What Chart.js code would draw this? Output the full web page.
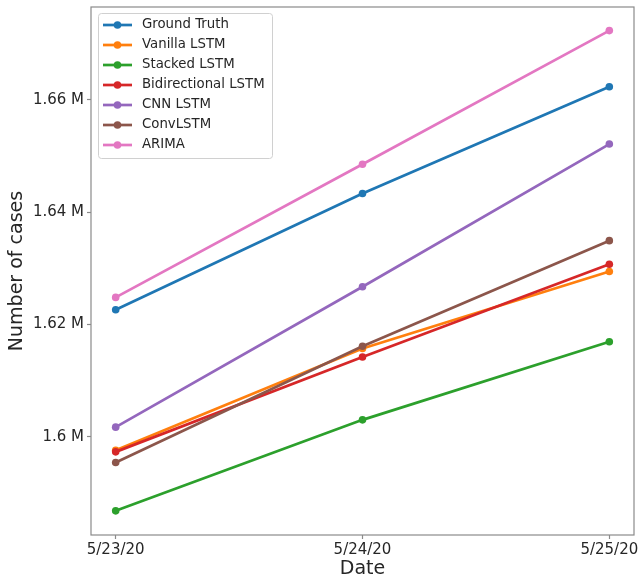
<!DOCTYPE html>
<html lang="en">
<head>
  <meta charset="UTF-8" />
  <title>Number of cases</title>
  <script src="https://cdn.jsdelivr.net/npm/chart.js"></script>
  <style>
    body { margin: 0; background: #fff; }
    canvas { display: block; }
  </style>
</head>
<body>
  <canvas id="casesChart" width="642" height="582"></canvas>
  <script>
    // Dados
    const dates = ['5/23/20', '5/24/20', '5/25/20'];
    const yTicks = [1600000, 1620000, 1640000, 1660000];

    const groundTruth   = [1622600, 1643300, 1662300];
    const vanillaLstm   = [1597600, 1615700, 1629400];
    const stackedLstm   = [1586800, 1603000, 1616900];
    const bidirLstm     = [1597300, 1614200, 1630700];
    const cnnLstm       = [1601700, 1626700, 1652100];
    const convLstm      = [1595400, 1616100, 1634900];
    const arima         = [1624800, 1648500, 1672300];

    const seriesNames  = ['Ground Truth', 'Vanilla LSTM', 'Stacked LSTM', 'Bidirectional LSTM', 'CNN LSTM', 'ConvLSTM', 'ARIMA'];
    const seriesValues = [groundTruth, vanillaLstm, stackedLstm, bidirLstm, cnnLstm, convLstm, arima];
    const colors = ['#1f77b4', '#ff7f0e', '#2ca02c', '#d62728', '#9467bd', '#8c564b', '#e377c2'];

    const font = 'DejaVu Sans';

    const datasets = seriesNames.map((name, i) => ({
      label: name,
      data: seriesValues[i].map((v, j) => ({ x: j, y: v })),
      borderColor: colors[i],
      backgroundColor: colors[i],
      borderWidth: 2.7,
      pointRadius: 3.8,
      pointBorderWidth: 0,
      order: seriesNames.length - i
    }));

    // Moldura do gráfico + legenda dentro da área
    const framePlugin = {
      id: 'frame',
      afterDraw(chart) {
        const { ctx, chartArea: a } = chart;
        ctx.save();
        ctx.strokeStyle = '#8a8a8a';
        ctx.lineWidth = 1.2;
        ctx.strokeRect(a.left, a.top, a.right - a.left, a.bottom - a.top);

        // legenda
        const bx = 98, by = 13, bw = 174, bh = 145;
        ctx.fillStyle = 'rgba(255,255,255,0.85)';
        ctx.strokeStyle = '#d0d0d0';
        ctx.lineWidth = 1;
        ctx.beginPath();
        ctx.roundRect(bx + 0.5, by + 0.5, bw, bh, 3);
        ctx.fill();
        ctx.stroke();
        ctx.font = '13.3px "' + font + '"';
        ctx.textBaseline = 'middle';
        seriesNames.forEach((name, i) => {
          const y = 25 + i * 20;
          ctx.strokeStyle = colors[i];
          ctx.lineWidth = 2.7;
          ctx.beginPath();
          ctx.moveTo(103, y);
          ctx.lineTo(132, y);
          ctx.stroke();
          ctx.fillStyle = colors[i];
          ctx.beginPath();
          ctx.arc(117.5, y, 3.8, 0, Math.PI * 2);
          ctx.fill();
          ctx.fillStyle = '#262626';
          ctx.fillText(name, 142, y);
        });
        ctx.restore();
      }
    };

    new Chart(document.getElementById('casesChart').getContext('2d'), {
      type: 'line',
      data: { datasets: datasets },
      plugins: [framePlugin],
      options: {
        responsive: false,
        animation: false,
        layout: { padding: { top: 7, right: 8, left: 0, bottom: 0 } },
        plugins: { legend: { display: false }, tooltip: { enabled: false } },
        scales: {
          x: {
            type: 'linear',
            min: -0.1,
            max: 2.1,
            afterBuildTicks: s => { s.ticks = dates.map((d, i) => ({ value: i })); },
            afterFit: s => { s.height = 47; s.paddingLeft = 0; s.paddingRight = 0; },
            grid: { display: true, drawOnChartArea: false, tickLength: 4, color: '#8a8a8a', tickWidth: 1.2 },
            border: { display: false },
            ticks: {
              color: '#262626',
              font: { family: font, size: 15 },
              padding: 2,
              maxRotation: 0,
              callback: v => dates[v]
            },
            title: {
              display: true,
              text: 'Date',
              color: '#262626',
              font: { family: font, size: 19 },
              padding: { top: 0, bottom: 2 }
            }
          },
          y: {
            min: 1582500,
            max: 1676500,
            afterBuildTicks: s => { s.ticks = yTicks.map(v => ({ value: v })); },
            afterFit: s => { s.width = 91; s.paddingTop = 0; s.paddingBottom = 0; },
            grid: { display: true, drawOnChartArea: false, tickLength: 4, color: '#8a8a8a', tickWidth: 1.2 },
            border: { display: false },
            ticks: {
              color: '#262626',
              font: { family: font, size: 15 },
              padding: 3,
              callback: v => (v / 1e6) + ' M'
            },
            title: {
              display: true,
              text: 'Number of cases',
              color: '#262626',
              font: { family: font, size: 19 },
              padding: { top: 6, bottom: 0 }
            }
          }
        }
      }
    });
  </script>
</body>
</html>
